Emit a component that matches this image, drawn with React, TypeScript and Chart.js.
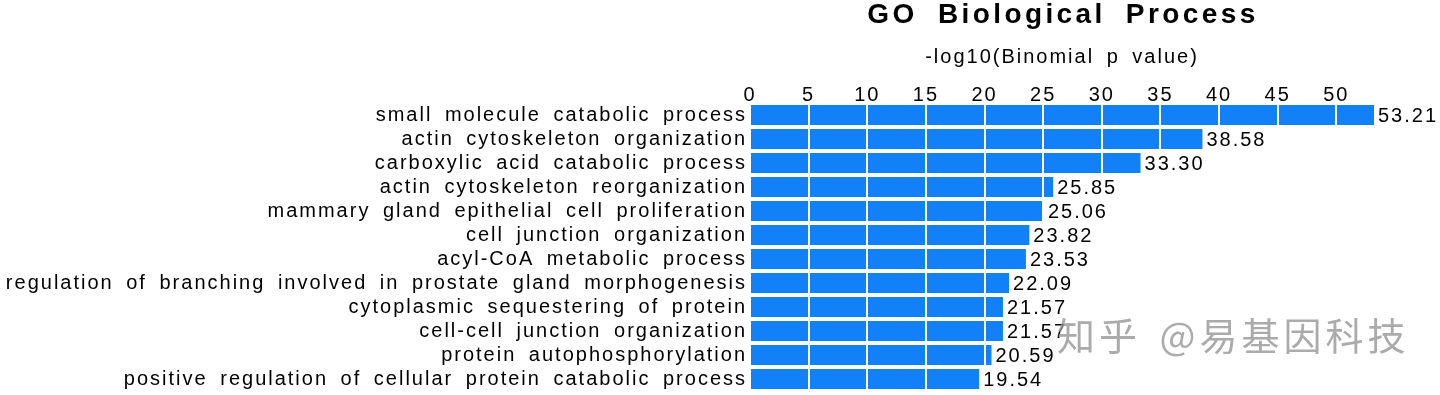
import React, { useEffect, useRef } from "react";
import { Chart, registerables } from "chart.js";

Chart.register(...registerables);

const categories = [
  "small molecule catabolic process",
  "actin cytoskeleton organization",
  "carboxylic acid catabolic process",
  "actin cytoskeleton reorganization",
  "mammary gland epithelial cell proliferation",
  "cell junction organization",
  "acyl-CoA metabolic process",
  "regulation of branching involved in prostate gland morphogenesis",
  "cytoplasmic sequestering of protein",
  "cell-cell junction organization",
  "protein autophosphorylation",
  "positive regulation of cellular protein catabolic process",
];

const values = [53.21, 38.58, 33.3, 25.85, 25.06, 23.82, 23.53, 22.09, 21.57, 21.57, 20.59, 19.54];

const xTickValues = [0, 5, 10, 15, 20, 25, 30, 35, 40, 45, 50];

const TITLE = "GO Biological Process";
const AXIS_TITLE = "-log10(Binomial p value)";
const WATERMARK = "知乎 @易基因科技";

const FONT = "'Liberation Sans', Arial, Helvetica, sans-serif";
const BAR_COLOR = "#1280f6";

function setSpacing(ctx: any, ls: number, ws: number) {
  ctx.letterSpacing = ls + "px";
  ctx.wordSpacing = ws + "px";
}

const spacingPlugin = {
  id: "spacing",
  beforeInit(chart: any) {
    setSpacing(chart.ctx, 2, 5);
  },
  beforeLayout(chart: any) {
    setSpacing(chart.ctx, 2, 5);
  },
  beforeDraw(chart: any) {
    setSpacing(chart.ctx, 2, 5);
  },
  afterDatasetsDraw(chart: any) {
    setSpacing(chart.ctx, 2, 5);
  },
};

const valueLabelPlugin = {
  id: "valueLabels",
  afterDraw(chart: any) {
    const ctx = chart.ctx;
    const meta = chart.getDatasetMeta(0);
    ctx.save();
    setSpacing(ctx, 2, 5);
    ctx.font = `20px ${FONT}`;
    ctx.fillStyle = "#000";
    ctx.textAlign = "left";
    ctx.textBaseline = "middle";
    meta.data.forEach((bar: any, i: number) => {
      ctx.fillText(values[i].toFixed(2), bar.x + 4, bar.y + 1);
    });
    ctx.restore();
  },
};

const titlePlugin = {
  id: "mainTitle",
  afterDraw(chart: any) {
    const ctx = chart.ctx;
    const area = chart.chartArea;
    ctx.save();
    setSpacing(ctx, 3.4, 9);
    ctx.font = `bold 28px ${FONT}`;
    ctx.fillStyle = "#000";
    ctx.textAlign = "center";
    ctx.textBaseline = "alphabetic";
    ctx.fillText(TITLE, (area.left + area.right) / 2 + 1, 23);
    ctx.restore();
  },
};

const watermarkPlugin = {
  id: "watermark",
  afterDraw(chart: any) {
    const ctx = chart.ctx;
    ctx.save();
    setSpacing(ctx, 4, 6);
    ctx.font = `38px 'Noto Sans CJK SC', sans-serif`;
    ctx.textAlign = "left";
    ctx.textBaseline = "alphabetic";
    ctx.fillStyle = "rgba(255,255,255,0.7)";
    ctx.fillText(WATERMARK, 1059, 352);
    ctx.fillStyle = "rgba(150,150,150,0.8)";
    ctx.fillText(WATERMARK, 1057, 350);
    ctx.restore();
  },
};

export default function App() {
  const canvasRef = useRef<HTMLCanvasElement | null>(null);

  useEffect(() => {
    const canvas = canvasRef.current;
    if (!canvas) return;
    const chart = new Chart(canvas, {
      type: "bar",
      data: {
        labels: categories,
        datasets: [
          {
            data: values,
            backgroundColor: BAR_COLOR,
            borderWidth: 0,
            barPercentage: 0.84,
            categoryPercentage: 1,
          },
        ],
      },
      options: {
        indexAxis: "y",
        responsive: false,
        animation: false,
        devicePixelRatio: 1,
        layout: { padding: { top: 0, right: 66, bottom: 4, left: 0 } },
        plugins: {
          legend: { display: false },
          tooltip: { enabled: false },
          title: { display: false },
        },
        scales: {
          x: {
            type: "linear",
            position: "top",
            min: 0,
            max: Math.max(...values),
            z: 1,
            afterBuildTicks: (axis: any) => {
              axis.ticks = xTickValues.map((v) => ({ value: v }));
            },
            grid: {
              color: (c: any) => (c.tick && c.tick.value === 0 ? "rgba(0,0,0,0)" : "#ffffff"),
              lineWidth: 2,
              drawTicks: false,
              z: 1,
            },
            border: { display: false },
            ticks: {
              color: "#000",
              font: { size: 20, family: FONT, lineHeight: 1.2 },
              padding: -4,
              maxRotation: 0,
              autoSkip: false,
            },
            title: {
              display: true,
              text: AXIS_TITLE,
              color: "#000",
              font: { size: 20, family: FONT, lineHeight: 1.2 },
              padding: { top: 45, bottom: 18 },
            },
          },
          y: {
            type: "category",
            z: 1,
            grid: { display: false, drawTicks: false },
            border: { display: false },
            ticks: {
              color: "#000",
              font: { size: 20, family: FONT, lineHeight: 1.2 },
              padding: 3,
              autoSkip: false,
            },
            afterFit: (scale: any) => {
              scale.width = 750;
              scale.paddingTop = 0;
              scale.paddingBottom = 0;
            },
          },
        },
      },
      plugins: [spacingPlugin, valueLabelPlugin, titlePlugin, watermarkPlugin],
    } as any);
    return () => chart.destroy();
  }, []);

  return (
    <div style={{ position: "fixed", left: 0, top: 0, width: 1440, height: 395, background: "#fff" }}>
      <canvas ref={canvasRef} width={1440} height={395} style={{ width: 1440, height: 395, display: "block" }} />
    </div>
  );
}
